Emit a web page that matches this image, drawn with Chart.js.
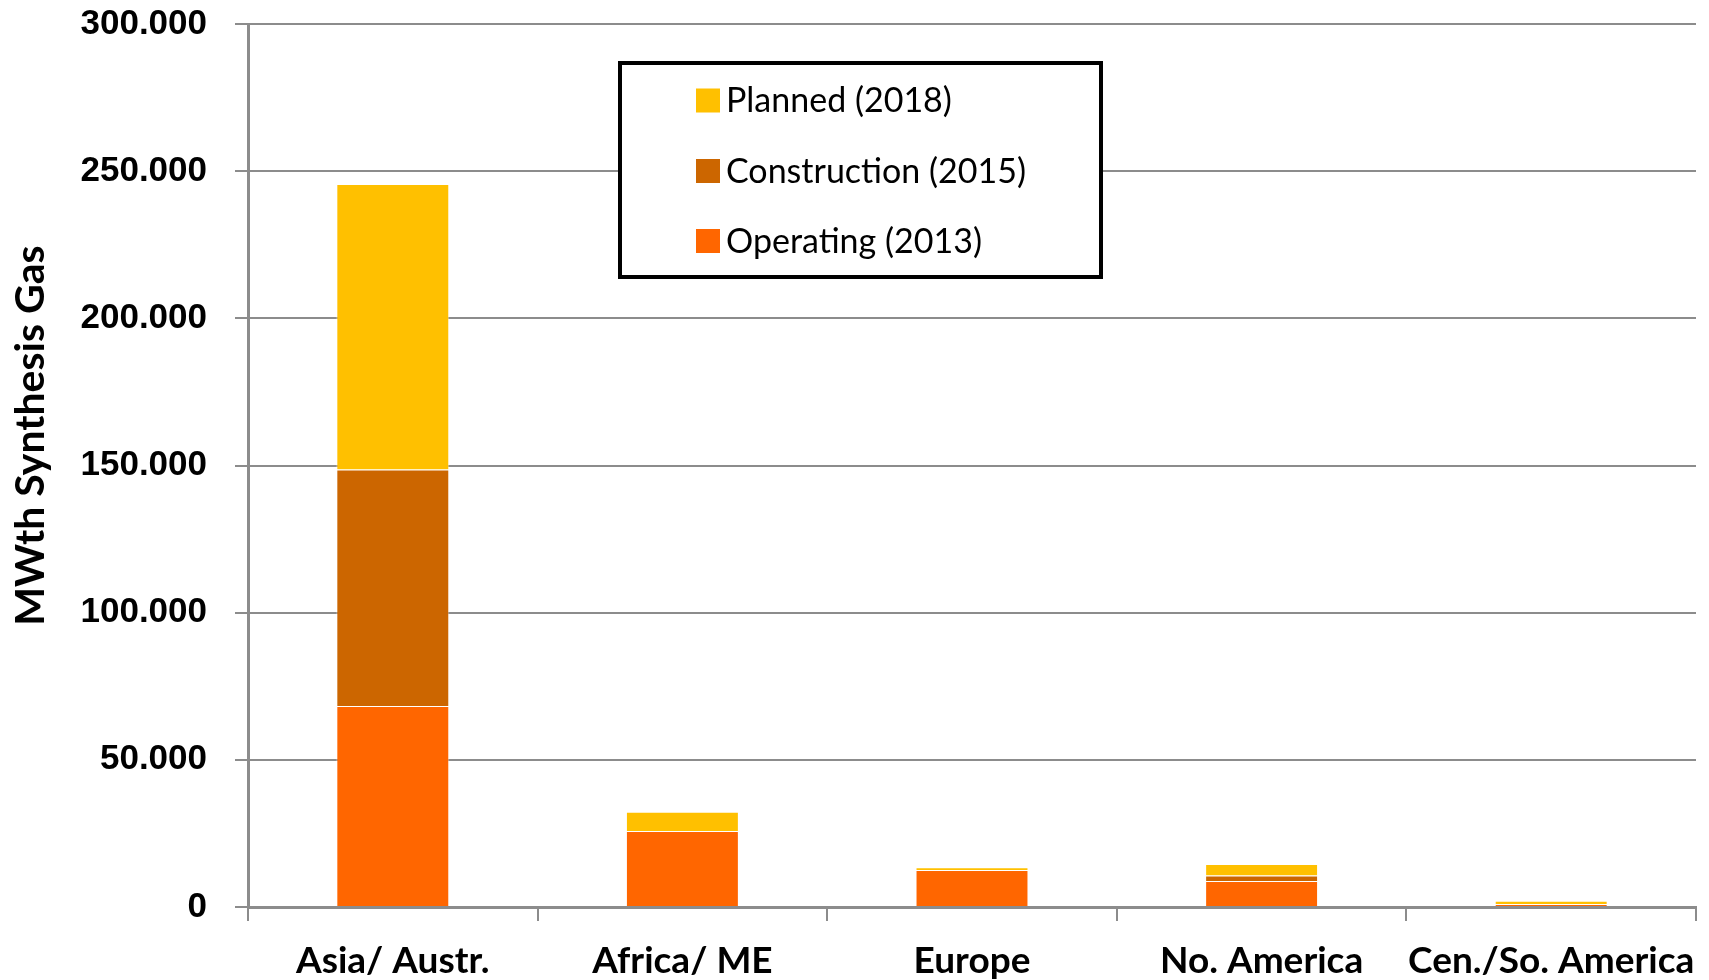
<!DOCTYPE html>
<html>
<head>
<meta charset="utf-8">
<script src="https://cdn.jsdelivr.net/npm/chart.js@4.4.1/dist/chart.umd.min.js"></script>
<style>
  html, body { margin: 0; padding: 0; background: #fff; }
  #wrap { width: 1709px; height: 980px; }
</style>
</head>
<body>
<div id="wrap"><canvas id="syngas"></canvas></div>
<script>
// values in MWth
const regions = ["Asia/ Austr.", "Africa/ ME", "Europe", "No. America", "Cen./So. America"];
const operating = [68300, 25800, 12600, 8800, 1000];
const construction = [80300, 0, 0, 1900, 0];
const planned = [97000, 6600, 900, 3900, 1100];
const yTicks = [0, 50000, 100000, 150000, 200000, 250000, 300000];

const gridGray = "#8c8c8c";

function dotThousands(v) {
    return String(v).replace(/\B(?=(\d{3})+(?!\d))/g, ".");
}

// boxed legend drawn inside the plot, top row = last dataset
const boxLegend = {
    id: "boxLegend",
    afterDraw(chart) {
        const ctx = chart.ctx;
        ctx.save();
        ctx.fillStyle = "#fff";
        ctx.fillRect(620, 63, 481, 214);
        ctx.strokeStyle = "#000";
        ctx.lineWidth = 4;
        ctx.strokeRect(620, 63, 481, 214);
        const sets = chart.data.datasets.slice().reverse();
        const rowY = [100.5, 171, 241];
        ctx.font = "34px Lato";
        ctx.textBaseline = "middle";
        ctx.textAlign = "left";
        sets.forEach((ds, i) => {
            ctx.fillStyle = ds.backgroundColor;
            ctx.fillRect(696, rowY[i] - 12, 24, 24);
            ctx.fillStyle = "#000";
            ctx.fillText(ds.label, 726, rowY[i] + 1);
        });
        ctx.restore();
    }
};

new Chart(document.getElementById("syngas").getContext("2d"), {
    type: "bar",
    data: {
        labels: regions,
        datasets: [{
            label: "Operating (2013)",
            data: operating,
            backgroundColor: "#FF6600",
            borderColor: "rgba(255,255,255,0.45)",
            borderWidth: 1
        }, {
            label: "Construction (2015)",
            data: construction,
            backgroundColor: "#CC6600",
            borderColor: "rgba(255,255,255,0.45)",
            borderWidth: 1
        }, {
            label: "Planned (2018)",
            data: planned,
            backgroundColor: "#FFC000",
            borderColor: "rgba(255,255,255,0.45)",
            borderWidth: 1
        }]
    },
    options: {
        responsive: true,
        maintainAspectRatio: false,
        animation: false,
        layout: { padding: { top: 24, right: 13, left: 0, bottom: 0 } },
        datasets: { bar: { barPercentage: 0.39, categoryPercentage: 1 } },
        plugins: {
            legend: { display: false },
            tooltip: { enabled: false }
        },
        scales: {
            x: {
                stacked: true,
                grid: {
                    offset: true,
                    drawOnChartArea: false,
                    drawTicks: true,
                    tickLength: 14,
                    color: gridGray,
                    lineWidth: 2
                },
                border: { color: gridGray, width: 3 },
                ticks: {
                    color: "#000",
                    padding: 18,
                    maxRotation: 0,
                    autoSkip: false,
                    font: { family: "Lato", weight: "bold", size: 37 }
                },
                afterFit(scale) {
                    scale.height = 73;
                    scale.paddingLeft = 0;
                    scale.paddingRight = 0;
                }
            },
            y: {
                stacked: true,
                min: 0,
                max: 300000,
                afterBuildTicks(scale) { scale.ticks = yTicks.map(v => ({ value: v })); },
                grid: {
                    color: gridGray,
                    lineWidth: 2,
                    drawTicks: true,
                    tickLength: 13
                },
                border: { color: gridGray, width: 3 },
                ticks: {
                    color: "#000",
                    padding: 28,
                    font: { family: "Liberation Sans", weight: "bold", size: 35 },
                    callback: v => dotThousands(v)
                },
                title: {
                    display: true,
                    text: "      MWth Synthesis Gas",
                    color: "#000",
                    padding: { top: 6, bottom: 0 },
                    font: { family: "Lato", weight: "bold", size: 41 }
                },
                afterFit(scale) {
                    scale.width = 248;
                    scale.paddingTop = 0;
                    scale.paddingBottom = 0;
                }
            }
        }
    },
    plugins: [boxLegend]
});
</script>
</body>
</html>
